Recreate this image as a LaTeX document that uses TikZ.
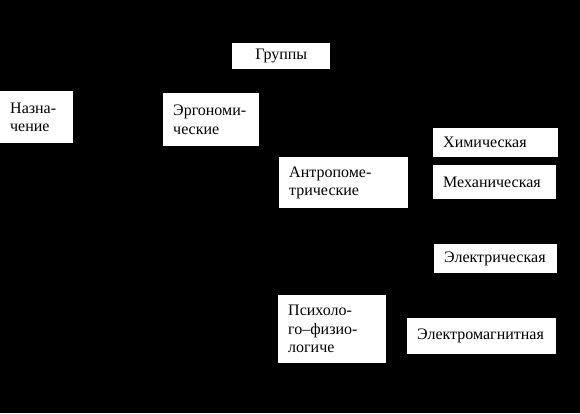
\documentclass[tikz,border=0pt]{standalone}
\usepackage{fontspec}
\setmainfont{Liberation Serif}
\usetikzlibrary{positioning}
\hyphenpenalty=10000
\tikzset
{
box/.style={fill=white, inner xsep=10pt, inner ysep=0pt, align=left, anchor=north west, font=\fontsize{16}{18.5}\selectfont},
tbox/.style={box, align=center}
}

\begin{document}
\begin{tikzpicture}[x=1pt, y=-1pt]
	\fill[black] (0,0) rectangle (580,413);
	\useasboundingbox (0,0) rectangle (580,413);

	\node[tbox, text width=78pt, minimum height=26pt] (grp) at (232,43) {Группы};

	\node[box, text width=53pt, minimum height=52pt] (naz) at (0,91) {Назна-\\чение};
	\node[box, text width=76pt, minimum height=53pt] (erg) at (163,93) {Эргономи-\\ческие};
	\node[box, text width=109pt, minimum height=51pt] (ant) at (279,157) {Антропоме-\\трические};
	\node[box, text width=88pt, minimum height=68pt] (psy) at (278,295) {Психоло-\\го–физио-\\логиче};

	\node[box, text width=105pt, minimum height=29pt] (him) at (433,128) {Химическая};
	\node[box, text width=103pt, minimum height=34pt] (meh) at (433,165) {Механическая};
	\node[box, text width=103pt, minimum height=29pt] (ele) at (434,244) {Электрическая};
	\node[box, text width=129pt, minimum height=36pt] (elm) at (407,318) {Электромагнитная};
\end{tikzpicture}
\end{document}
